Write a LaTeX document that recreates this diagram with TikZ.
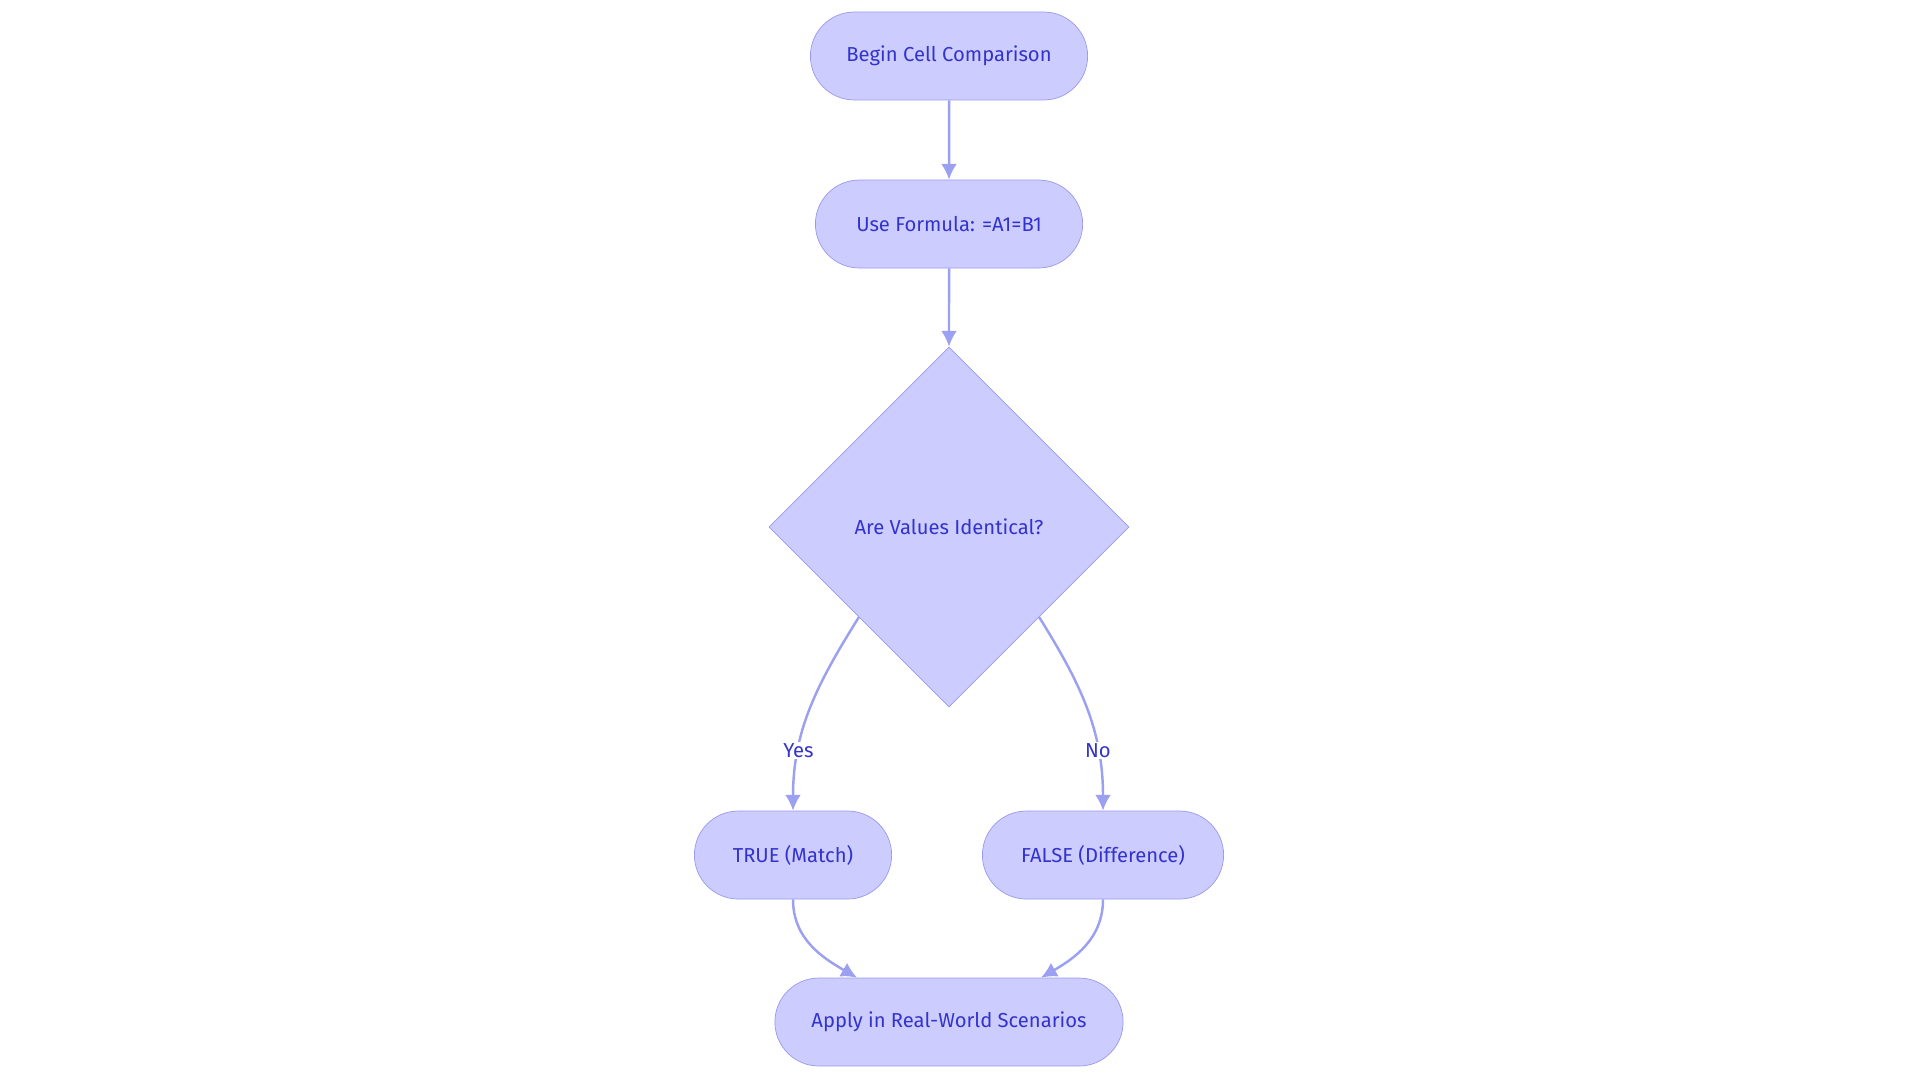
\documentclass[tikz,border=0pt]{standalone}
\usepackage{fontspec}
\setmainfont{Fira Sans}
\usetikzlibrary{shapes.geometric,shapes.misc,arrows.meta}
\definecolor{boxfill}{HTML}{CCCCFF}
\definecolor{boxline}{HTML}{9999EE}
\definecolor{boxtext}{HTML}{3333CC}
\definecolor{edge}{HTML}{9CA0F0}
\begin{document}
\begin{tikzpicture}[x=0.02cm,y=-0.02cm,
  stage/.style={rounded rectangle, draw=boxline, fill=boxfill, text=boxtext,
    minimum height=1.76cm, font=\fontsize{11.5}{13}\selectfont},
  check/.style={diamond, aspect=1, draw=boxline, fill=boxfill, text=boxtext,
    minimum size=7.2cm, inner sep=0pt, font=\fontsize{11.5}{13}\selectfont},
  link/.style={draw=edge, line width=1.4pt, -{Latex[length=9pt,width=9pt]}},
  tag/.style={fill=white, text=boxtext, inner sep=1pt, font=\fontsize{11.5}{13}\selectfont}]
\useasboundingbox (0,0) rectangle (1920,1083);

% Steps
\node[stage, minimum width=5.78cm] (begin) at (949,56) {Begin Cell Comparison};
\node[stage, minimum width=5.58cm] (formula) at (949,224) {Use Formula: =A1=B1};
\node[check] (same) at (949,527) {Are Values Identical?};
\node[stage, minimum width=4.18cm] (match) at (793,855) {TRUE (Match)};
\node[stage, minimum width=5.06cm] (diff) at (1103,855) {FALSE (Difference)};
\node[stage, minimum width=7.2cm] (apply) at (949,1022) {Apply in Real-World Scenarios};

% Connectors
\draw[link] (begin) -- (formula);
\draw[link] (formula) -- (same);
\draw[link] (same.south west) to[out=-122,in=90]
  node[tag, pos=0.72] {Yes} (match.north);
\draw[link] (same.south east) to[out=-58,in=90]
  node[tag, pos=0.72] {No} (diff.north);
\draw[link] (match.south) to[out=-90,in=150] ([xshift=-1.84cm]apply.north);
\draw[link] (diff.south) to[out=-90,in=30] ([xshift=1.84cm]apply.north);
\end{tikzpicture}
\end{document}
